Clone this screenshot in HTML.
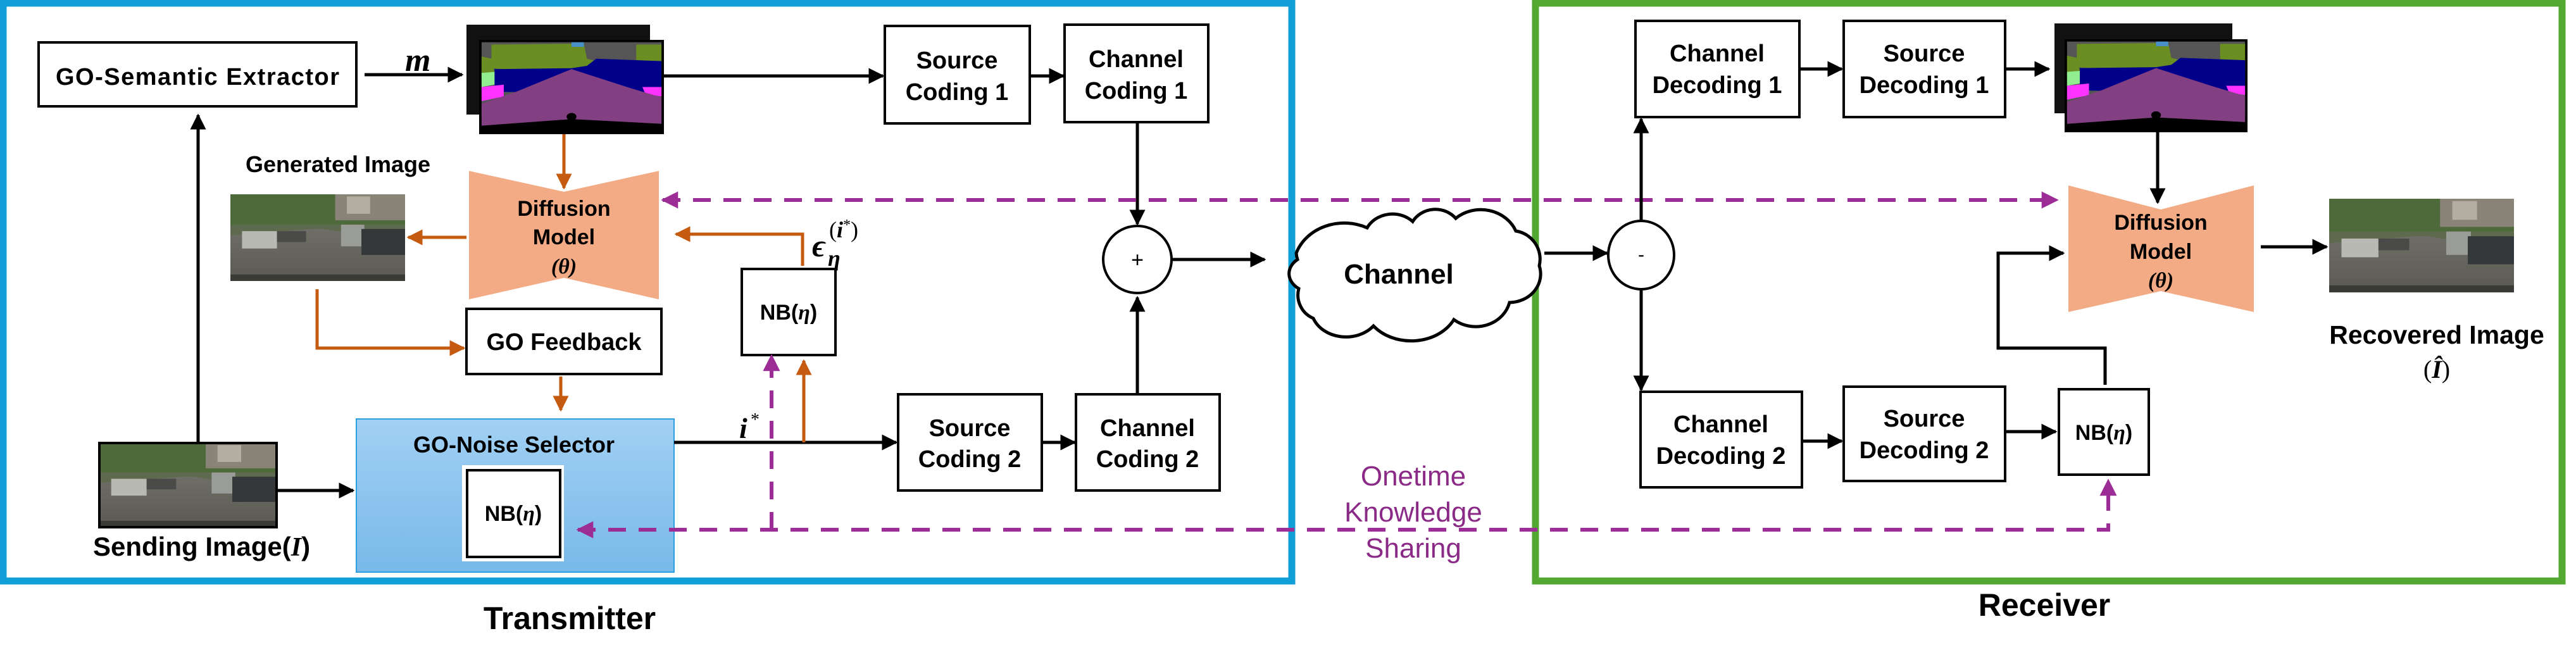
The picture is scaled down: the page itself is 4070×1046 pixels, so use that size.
<!DOCTYPE html>
<html><head><meta charset="utf-8"><style>
html,body{margin:0;padding:0;background:#fff;}
svg{display:block;}
text{font-family:"Liberation Sans",sans-serif;font-weight:bold;fill:#000;}
.m{font-family:"Liberation Serif",serif;font-style:italic;}
</style></head><body>
<svg width="4070" height="1046" viewBox="0 0 4070 1046" xmlns="http://www.w3.org/2000/svg">
<defs>
<marker id="ab" viewBox="0 0 10 10" refX="9" refY="5" markerWidth="5" markerHeight="5" orient="auto-start-reverse" markerUnits="strokeWidth"><path d="M0,0 L10,5 L0,10 z" fill="#000"/></marker>
<marker id="ao" viewBox="0 0 10 10" refX="9" refY="5" markerWidth="5" markerHeight="5" orient="auto-start-reverse" markerUnits="strokeWidth"><path d="M0,0 L10,5 L0,10 z" fill="#c55a11"/></marker>
<marker id="ap" viewBox="0 0 10 10" refX="9" refY="5" markerWidth="4.5" markerHeight="4.5" orient="auto-start-reverse" markerUnits="strokeWidth"><path d="M0,0 L10,5 L0,10 z" fill="#9c2d96"/></marker>
<linearGradient id="bg" x1="0" y1="0" x2="0" y2="1"><stop offset="0" stop-color="#a2d0f4"/><stop offset="1" stop-color="#78b9e9"/></linearGradient>
<linearGradient id="road" x1="0" y1="0" x2="0" y2="1"><stop offset="0" stop-color="#6e6e66"/><stop offset="1" stop-color="#5a5a52"/></linearGradient>
<symbol id="street" viewBox="0 0 300 200" preserveAspectRatio="none">
<rect width="300" height="200" fill="#5d6a4e"/>
<rect x="0" y="0" width="300" height="70" fill="#4f6a3a"/>
<rect x="180" y="0" width="120" height="60" fill="#8a8478"/>
<rect x="200" y="5" width="40" height="40" fill="#b4aea2"/>
<path d="M0,95 L140,80 L160,80 L300,110 L300,200 L0,200 z" fill="url(#road)"/>
<rect x="20" y="85" width="60" height="40" fill="#b9b9b4"/>
<rect x="80" y="85" width="50" height="25" fill="#4a4a48"/>
<rect x="190" y="70" width="40" height="50" fill="#9a9c98"/>
<rect x="225" y="80" width="75" height="60" fill="#34383a"/>
<rect x="0" y="185" width="300" height="15" fill="#3a3a36"/>
</symbol>
<symbol id="seg" viewBox="0 0 300 200" preserveAspectRatio="none">
<rect width="300" height="200" fill="#000"/>
<rect x="4" y="5" width="292" height="160" fill="#555"/>
<path d="M20,10 L170,8 L175,40 L220,55 L120,70 L20,60 z" fill="#6b8e23"/>
<path d="M4,35 L20,40 L25,70 L4,80 z" fill="#6b8e23"/>
<rect x="255" y="10" width="41" height="55" fill="#6b8e23"/>
<rect x="150" y="5" width="20" height="10" fill="#4a90c8"/>
<path d="M25,62 L150,60 L175,55 L190,40 L296,45 L296,110 L250,115 L25,110 z" fill="#00008b"/>
<path d="M4,70 L25,68 L25,95 L4,100 z" fill="#90ee90"/>
<path d="M4,100 L40,95 L40,120 L4,130 z" fill="#ff33ff"/>
<path d="M265,100 L296,100 L296,120 L270,115 z" fill="#ff33ff"/>
<path d="M4,135 L60,110 L150,62 L240,100 L296,122 L296,178 L150,168 L4,182 z" fill="#824082"/>
<circle cx="150" cy="163" r="8" fill="#000"/>
</symbol>
</defs>

<rect x="5" y="5" width="2036" height="913" fill="none" stroke="#119fd8" stroke-width="11"/>
<rect x="2426" y="5" width="1622" height="913" fill="none" stroke="#52a830" stroke-width="11"/>

<rect x="61" y="67" width="502" height="101" fill="#fff" stroke="#000" stroke-width="4"/>
<text x="312" y="134" font-size="38" text-anchor="middle" textLength="448">GO-Semantic Extractor</text>
<text x="640" y="112" class="m" font-size="52">m</text>
<line x1="576" y1="118" x2="730" y2="118" stroke="#000" stroke-width="5" marker-end="url(#ab)"/>
<rect x="737" y="39" width="290" height="142" fill="#111"/>
<use href="#seg" x="757" y="63" width="292" height="149"/>
<line x1="1049" y1="120" x2="1395" y2="120" stroke="#000" stroke-width="5" marker-end="url(#ab)"/>

<text x="534" y="272" font-size="36" text-anchor="middle">Generated Image</text>
<use href="#street" x="364" y="307" width="276" height="137"/>

<path d="M741,270 L891,303 L1041,270 L1041,473 L891,439 L741,473 z" fill="#f2ab85"/>
<text x="891" y="341" font-size="34" text-anchor="middle">Diffusion</text>
<text x="891" y="386" font-size="34" text-anchor="middle">Model</text>
<text x="891" y="432" font-size="34" text-anchor="middle" class="m" style="font-weight:bold">(θ)</text>
<line x1="891" y1="212" x2="891" y2="297" stroke="#c55a11" stroke-width="5" marker-end="url(#ao)"/>
<line x1="737" y1="375" x2="645" y2="375" stroke="#c55a11" stroke-width="5" marker-end="url(#ao)"/>
<polyline points="1268,420 1268,370 1068,370" fill="none" stroke="#c55a11" stroke-width="5" marker-end="url(#ao)"/>
<text x="1283" y="405" class="m" font-size="50" style="font-weight:bold">ϵ</text>
<text x="1308" y="420" class="m" font-size="36" style="font-weight:bold">η</text>
<text x="1310" y="375" font-size="36" style="font-family:'Liberation Serif',serif;font-weight:normal">(<tspan font-style="italic" font-weight="bold">i</tspan><tspan font-size="24" dy="-12">*</tspan><tspan dy="12">)</tspan></text>

<rect x="1172" y="425" width="148" height="136" fill="#fff" stroke="#000" stroke-width="4"/>
<text x="1246" y="505" font-size="34" text-anchor="middle">NB(<tspan class="m">η</tspan>)</text>

<rect x="737" y="488" width="308" height="103" fill="#fff" stroke="#000" stroke-width="4"/>
<text x="891" y="553" font-size="38" text-anchor="middle">GO Feedback</text>
<polyline points="501,457 501,550 733,550" fill="none" stroke="#c55a11" stroke-width="5" marker-end="url(#ao)"/>
<line x1="886" y1="595" x2="886" y2="648" stroke="#c55a11" stroke-width="5" marker-end="url(#ao)"/>

<rect x="563" y="662" width="502" height="242" fill="url(#bg)" stroke="#2ba0e0" stroke-width="2"/>
<text x="812" y="715" font-size="36" text-anchor="middle">GO-Noise Selector</text>
<rect x="730" y="735" width="161" height="152" fill="#fff"/>
<rect x="738" y="743" width="147" height="137" fill="#fff" stroke="#000" stroke-width="4"/>
<text x="811" y="823" font-size="34" text-anchor="middle">NB(<tspan class="m">η</tspan>)</text>

<use href="#street" x="157" y="700" width="280" height="133"/>
<rect x="157" y="700" width="280" height="133" fill="none" stroke="#000" stroke-width="4"/>
<text x="147" y="878" font-size="42">Sending Image(<tspan class="m">I</tspan>)</text>
<line x1="313" y1="700" x2="313" y2="182" stroke="#000" stroke-width="5" marker-end="url(#ab)"/>
<line x1="437" y1="775" x2="558" y2="775" stroke="#000" stroke-width="5" marker-end="url(#ab)"/>

<line x1="1065" y1="699" x2="1416" y2="699" stroke="#000" stroke-width="5" marker-end="url(#ab)"/>
<text x="1168" y="692" class="m" font-size="46" style="font-weight:bold">i</text>
<text x="1186" y="672" font-size="28" style="font-family:'Liberation Serif',serif;font-weight:normal">*</text>
<line x1="1270" y1="699" x2="1270" y2="570" stroke="#c55a11" stroke-width="5" marker-end="url(#ao)"/>

<rect x="1398" y="41" width="229" height="154" fill="#fff" stroke="#000" stroke-width="4"/>
<text x="1512" y="108" font-size="38" text-anchor="middle">Source</text>
<text x="1512" y="158" font-size="38" text-anchor="middle">Coding 1</text>
<rect x="1682" y="39" width="227" height="154" fill="#fff" stroke="#000" stroke-width="4"/>
<text x="1795" y="106" font-size="38" text-anchor="middle">Channel</text>
<text x="1795" y="156" font-size="38" text-anchor="middle">Coding 1</text>
<line x1="1627" y1="120" x2="1680" y2="120" stroke="#000" stroke-width="5" marker-end="url(#ab)"/>
<line x1="1797" y1="193" x2="1797" y2="354" stroke="#000" stroke-width="5" marker-end="url(#ab)"/>

<rect x="1419" y="623" width="227" height="152" fill="#fff" stroke="#000" stroke-width="4"/>
<text x="1532" y="689" font-size="38" text-anchor="middle">Source</text>
<text x="1532" y="738" font-size="38" text-anchor="middle">Coding 2</text>
<rect x="1700" y="623" width="227" height="152" fill="#fff" stroke="#000" stroke-width="4"/>
<text x="1813" y="689" font-size="38" text-anchor="middle">Channel</text>
<text x="1813" y="738" font-size="38" text-anchor="middle">Coding 2</text>
<line x1="1646" y1="699" x2="1698" y2="699" stroke="#000" stroke-width="5" marker-end="url(#ab)"/>
<line x1="1797" y1="623" x2="1797" y2="470" stroke="#000" stroke-width="5" marker-end="url(#ab)"/>

<ellipse cx="1797" cy="410" rx="54" ry="53" fill="#fff" stroke="#000" stroke-width="4"/>
<text x="1797" y="422" font-size="34" text-anchor="middle" style="font-weight:normal">+</text>
<line x1="1851" y1="410" x2="1998" y2="410" stroke="#000" stroke-width="5" marker-end="url(#ab)"/>

<line x1="1047" y1="316" x2="3250" y2="316" stroke="#9c2d96" stroke-width="6" stroke-dasharray="28 20" marker-start="url(#ap)" marker-end="url(#ap)"/>
<polyline points="913,837 3331,837 3331,759" fill="none" stroke="#9c2d96" stroke-width="6" stroke-dasharray="28 20" marker-start="url(#ap)" marker-end="url(#ap)"/>
<line x1="1219" y1="837" x2="1219" y2="562" stroke="#9c2d96" stroke-width="6" stroke-dasharray="28 20" marker-end="url(#ap)"/>

<path d="M2050,410 A52,45 0 0 1 2048,400 A80,70 0 0 1 2160,360 A45,40 0 0 1 2232,350 A42,40 0 0 1 2300,345 A60,55 0 0 1 2395,365 A45,45 0 0 1 2432,420 A50,45 0 0 1 2385,478 A55,50 0 0 1 2297,505 A75,60 0 0 1 2170,515 A55,45 0 0 1 2075,503 A40,40 0 0 1 2052,456 A40,30 0 0 1 2050,410 z" fill="#fff" stroke="#000" stroke-width="5"/>
<text x="2210" y="448" font-size="44" text-anchor="middle">Channel</text>
<line x1="2440" y1="400" x2="2539" y2="400" stroke="#000" stroke-width="5" marker-end="url(#ab)"/>

<text x="2233" y="767" font-size="44" text-anchor="middle" style="font-weight:normal;fill:#8a2a86">Onetime</text>
<text x="2233" y="824" font-size="44" text-anchor="middle" style="font-weight:normal;fill:#8a2a86">Knowledge</text>
<text x="2233" y="881" font-size="44" text-anchor="middle" style="font-weight:normal;fill:#8a2a86">Sharing</text>

<ellipse cx="2593" cy="403" rx="52" ry="54" fill="#fff" stroke="#000" stroke-width="4"/>
<text x="2593" y="412" font-size="30" text-anchor="middle" style="font-weight:normal">-</text>
<line x1="2593" y1="349" x2="2593" y2="188" stroke="#000" stroke-width="5" marker-end="url(#ab)"/>
<line x1="2593" y1="457" x2="2593" y2="616" stroke="#000" stroke-width="5" marker-end="url(#ab)"/>

<rect x="2584" y="33" width="259" height="152" fill="#fff" stroke="#000" stroke-width="4"/>
<text x="2713" y="97" font-size="38" text-anchor="middle">Channel</text>
<text x="2713" y="147" font-size="38" text-anchor="middle">Decoding 1</text>
<rect x="2913" y="33" width="255" height="152" fill="#fff" stroke="#000" stroke-width="4"/>
<text x="3040" y="97" font-size="38" text-anchor="middle">Source</text>
<text x="3040" y="147" font-size="38" text-anchor="middle">Decoding 1</text>
<line x1="2843" y1="109" x2="2910" y2="109" stroke="#000" stroke-width="5" marker-end="url(#ab)"/>
<line x1="3168" y1="109" x2="3237" y2="109" stroke="#000" stroke-width="5" marker-end="url(#ab)"/>
<rect x="3246" y="37" width="281" height="142" fill="#111"/>
<use href="#seg" x="3262" y="62" width="289" height="147"/>
<line x1="3409" y1="209" x2="3409" y2="320" stroke="#000" stroke-width="5" marker-end="url(#ab)"/>

<path d="M3268,293 L3414,331 L3561,293 L3561,493 L3414,460 L3268,493 z" fill="#f2ab85"/>
<text x="3414" y="363" font-size="34" text-anchor="middle">Diffusion</text>
<text x="3414" y="409" font-size="34" text-anchor="middle">Model</text>
<text x="3414" y="454" font-size="34" text-anchor="middle" class="m" style="font-weight:bold">(θ)</text>
<line x1="3572" y1="390" x2="3676" y2="390" stroke="#000" stroke-width="5" marker-end="url(#ab)"/>
<use href="#street" x="3680" y="314" width="292" height="148"/>
<text x="3850" y="543" font-size="41" text-anchor="middle">Recovered  Image</text>
<text x="3850" y="597" font-size="40" text-anchor="middle" style="font-family:'Liberation Serif',serif;font-weight:normal">(<tspan font-style="italic" font-weight="bold">Î</tspan>)</text>

<rect x="2592" y="619" width="255" height="151" fill="#fff" stroke="#000" stroke-width="4"/>
<text x="2719" y="683" font-size="38" text-anchor="middle">Channel</text>
<text x="2719" y="733" font-size="38" text-anchor="middle">Decoding 2</text>
<rect x="2913" y="611" width="255" height="149" fill="#fff" stroke="#000" stroke-width="4"/>
<text x="3040" y="674" font-size="38" text-anchor="middle">Source</text>
<text x="3040" y="724" font-size="38" text-anchor="middle">Decoding 2</text>
<line x1="2847" y1="697" x2="2910" y2="697" stroke="#000" stroke-width="5" marker-end="url(#ab)"/>
<line x1="3168" y1="682" x2="3248" y2="682" stroke="#000" stroke-width="5" marker-end="url(#ab)"/>
<rect x="3253" y="615" width="142" height="135" fill="#fff" stroke="#000" stroke-width="4"/>
<text x="3324" y="695" font-size="34" text-anchor="middle">NB(<tspan class="m">η</tspan>)</text>
<polyline points="3326,608 3326,550 3157,550 3157,400 3260,400" fill="none" stroke="#000" stroke-width="5" marker-end="url(#ab)"/>

<text x="900" y="994" font-size="50" text-anchor="middle">Transmitter</text>
<text x="3230" y="973" font-size="50" text-anchor="middle">Receiver</text>
</svg>
</body></html>
